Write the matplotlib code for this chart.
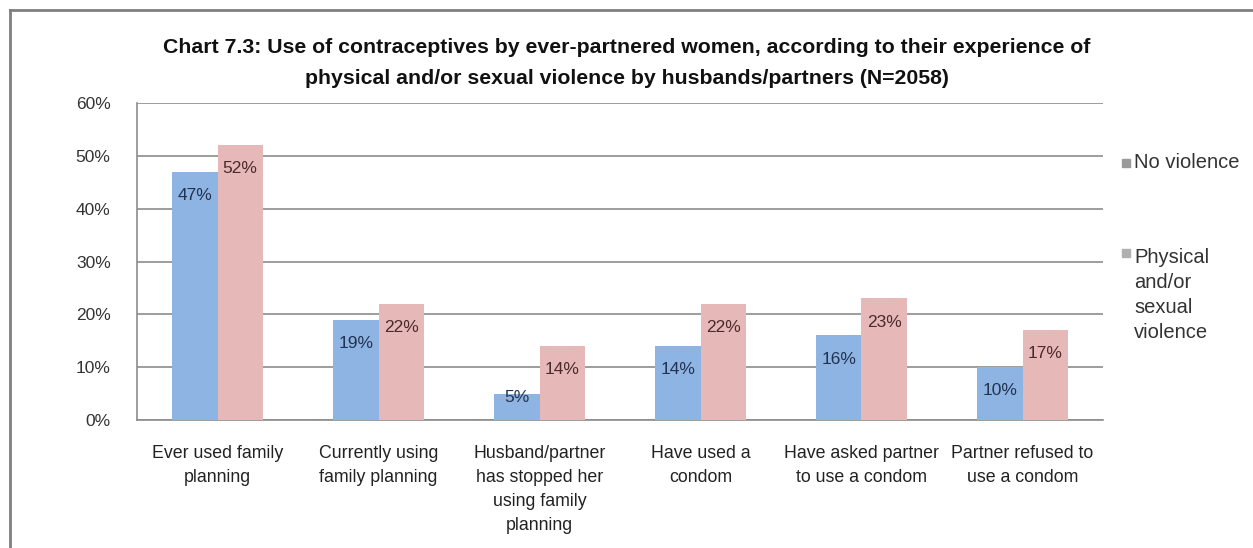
import matplotlib
matplotlib.use("Agg")
import matplotlib.pyplot as plt
from matplotlib import font_manager
from matplotlib.patches import Rectangle
from matplotlib.lines import Line2D
import numpy as np

categories = [
    "Ever used family\nplanning",
    "Currently using\nfamily planning",
    "Husband/partner\nhas stopped her\nusing family\nplanning",
    "Have used a\ncondom",
    "Have asked partner\nto use a condom",
    "Partner refused to\nuse a condom",
]
no_violence = [47, 19, 5, 14, 16, 10]
violence = [52, 22, 14, 22, 23, 17]
series_names = ["No violence", "Physical\nand/or\nsexual\nviolence"]
yticks = [0, 10, 20, 30, 40, 50, 60]
title = ("Chart 7.3: Use of contraceptives by ever-partnered women, according to their experience of\n"
         "physical and/or sexual violence by husbands/partners (N=2058)")

available = {f.name for f in font_manager.fontManager.ttflist}
body_font = "Liberation Sans" if "Liberation Sans" in available else "DejaVu Sans"
title_font = "Liberation Sans Narrow" if "Liberation Sans Narrow" in available else body_font
plt.rcParams["font.family"] = body_font

W, H = 1253, 548
fig = plt.figure(figsize=(W / 100, H / 100), dpi=100)
ax = fig.add_axes([137 / W, 1 - 420 / H, (1103 - 137) / W, (420 - 103) / H])

blue = "#8eb4e3"
pink = "#e6b9b8"
x = np.arange(len(categories))
bw = 0.28
ax.bar(x - bw / 2, no_violence, bw, color=blue, zorder=3)
ax.bar(x + bw / 2, violence, bw, color=pink, zorder=3)

for xs, vals, col in [(x - bw / 2, no_violence, "#22324f"), (x + bw / 2, violence, "#4a2a2a")]:
    for xi, v in zip(xs, vals):
        dy = -17 if v >= 8 else -3
        ax.annotate(f"{v}%", (xi, v), xytext=(0, dy), textcoords="offset points",
                    ha="center", va="center", fontsize=12.5, color=col, zorder=4)

ax.set_xlim(-0.5, len(categories) - 0.5)
ax.set_ylim(0, 60)
ax.set_yticks(yticks)
ax.set_yticklabels([f"{t}%" for t in yticks], fontsize=12.5, color="#333333")
ax.set_xticks(x)
ax.set_xticklabels(categories, fontsize=12.8, color="#222222", linespacing=1.55)
ax.tick_params(axis="both", length=0)
ax.tick_params(axis="y", pad=19)
ax.tick_params(axis="x", pad=18)
ax.grid(axis="y", color="#8c8c8c", linewidth=1.2, zorder=0)
for s in ["top", "right"]:
    ax.spines[s].set_visible(False)
ax.spines["left"].set_color("#8c8c8c")
ax.spines["bottom"].set_color("#8c8c8c")
ax.spines["left"].set_linewidth(1.2)
ax.spines["bottom"].set_linewidth(1.2)

fig.text(627 / W, 1 - 63 / H, title, ha="center", va="center", fontsize=15.3,
         fontweight="bold", family=title_font, linespacing=1.75, color="#111111")

# legend
legend_items = [(series_names[0], 163), (series_names[1], 295)]
for (label, yc), col in zip(legend_items, ["#9a9a9a", "#b0b0b0"]):
    n = label.count("\n") + 1
    first_line_y = yc - (n - 1) * 28 / 2
    fig.patches.append(Rectangle((1122 / W, 1 - (first_line_y + 4) / H), 8 / W, 8 / H,
                                 transform=fig.transFigure, color=col))
    fig.text(1134 / W, 1 - yc / H, label, ha="left", va="center", fontsize=14.5,
             color="#333333", linespacing=1.4)

# chart frame
fig.add_artist(Line2D([10 / W, 1], [1 - 10 / H, 1 - 10 / H], transform=fig.transFigure,
                      color="#7f7f7f", linewidth=2))
fig.add_artist(Line2D([10 / W, 10 / W], [0, 1 - 10 / H], transform=fig.transFigure,
                      color="#7f7f7f", linewidth=2))

fig.savefig("out.png", dpi=100, facecolor="white")
